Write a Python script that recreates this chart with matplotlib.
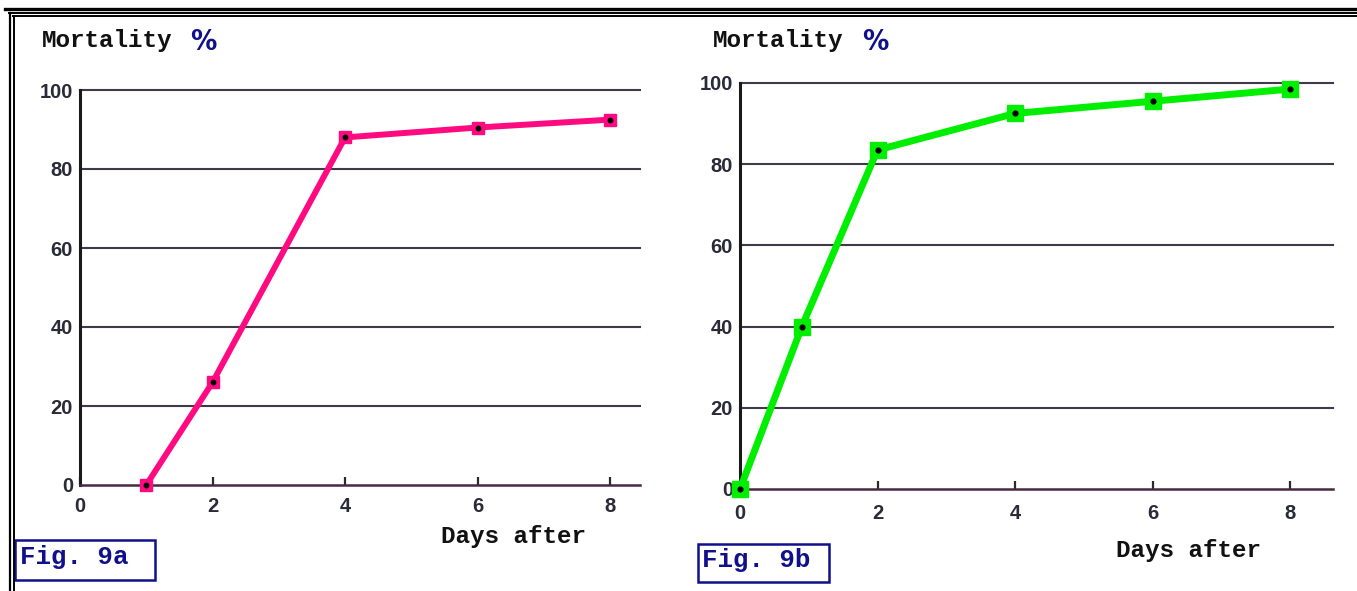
import matplotlib
matplotlib.use('Agg')
import matplotlib.pyplot as plt
from matplotlib.lines import Line2D
from matplotlib.patches import Rectangle

# ---- data ----
days_a = [1, 2, 4, 6, 8]
mort_a = [0, 26, 88, 90.5, 92.5]
days_b = [0, 0.9, 2, 4, 6, 8]
mort_b = [0, 40, 83.5, 92.5, 95.5, 98.5]
xticks = [0, 2, 4, 6, 8]
yticks = [0, 20, 40, 60, 80, 100]
ylabel_txt = "Mortality"
xlabel_txt = "Days after"
fig_labels = ["Fig. 9a", "Fig. 9b"]

W, H = 1357, 591
fig = plt.figure(figsize=(W / 100, H / 100), dpi=100)
fig.patch.set_facecolor('white')


def rect(x0, y0, x1, y1):
    return [x0 / W, 1 - y1 / H, (x1 - x0) / W, (y1 - y0) / H]


def fx(x):
    return x / W


def fy(y):
    return 1 - y / H


NAVY = '#10108a'
TXT = '#111111'
TICKC = '#2a2a38'
GRIDC = '#403a48'
SPINEB = '#4a2840'
mono = ['Liberation Mono', 'DejaVu Sans Mono']


def style_axes(ax, xmax, xpad):
    ax.set_xlim(0, xmax)
    ax.set_ylim(0, 100)
    for s in ['top', 'right']:
        ax.spines[s].set_visible(False)
    ax.spines['left'].set_color('#1a1a1a')
    ax.spines['left'].set_linewidth(2.2)
    ax.spines['bottom'].set_color(SPINEB)
    ax.spines['bottom'].set_linewidth(1.8)
    ax.set_xticks(xticks)
    ax.set_yticks(yticks)
    ax.tick_params(axis='x', direction='in', length=6, width=1.6,
                   color='#2a2a2a', pad=xpad, labelsize=14.5, labelcolor=TICKC)
    ax.tick_params(axis='y', length=0, pad=5, labelsize=14.5, labelcolor=TICKC)
    for lab in ax.get_xticklabels() + ax.get_yticklabels():
        lab.set_fontweight('bold')
        lab.set_family(['Liberation Sans', 'DejaVu Sans'])
    for yv in yticks[1:]:
        ax.axhline(yv, color=GRIDC, lw=1.5, zorder=1, clip_on=False)
    ax.set_facecolor('none')


# ---- panel a ----
axa = fig.add_axes(rect(80, 90, 640, 485))
style_axes(axa, 8.45, 9)
axa.plot(days_a, mort_a, color='#ff0a80', lw=4.3, marker='s', markersize=9,
         markerfacecolor='#ff0a80', markeredgecolor='#ff0a80',
         zorder=3, clip_on=False, solid_joinstyle='miter')
axa.plot(days_a, mort_a, ls='none', marker='o', markersize=3.2,
         color='black', zorder=4, clip_on=False)

# ---- panel b ----
axb = fig.add_axes(rect(740, 83, 1333, 489))
style_axes(axb, 8.625, 11)
axb.plot(days_b, mort_b, color='#00ee00', lw=5.0, marker='s', markersize=11.5,
         markerfacecolor='#00ee00', markeredgecolor='#00ee00',
         zorder=3, clip_on=False, solid_joinstyle='miter')
axb.plot(days_b, mort_b, ls='none', marker='o', markersize=3.4,
         color='black', zorder=4, clip_on=False)

# ---- texts ----
for x0, xpct, y0 in [(42, 190, 41), (713, 862, 41)]:
    fig.text(fx(x0), fy(y0), ylabel_txt, family=mono, fontsize=17.5,
             fontweight='bold', color=TXT, va='center', ha='left')
    fig.text(fx(xpct), fy(y0 + 1.5), '%', family=['DejaVu Sans'],
             fontstretch='condensed', fontsize=21,
             fontweight='bold', color=NAVY, va='center', ha='left')

fig.text(fx(441), fy(536), xlabel_txt, family=mono, fontsize=17.5,
         fontweight='bold', color=TXT, va='center', ha='left')
fig.text(fx(1116), fy(551), xlabel_txt, family=mono, fontsize=17.5,
         fontweight='bold', color=TXT, va='center', ha='left')

for (x0, y0, x1, y1), (tx, ty), lab in zip(
        [(15, 540, 155, 580), (698, 544, 829, 582)],
        [(20, 557), (702, 560)], fig_labels):
    fig.patches.append(Rectangle((fx(x0), fy(y1)), fx(x1) - fx(x0),
                                 fy(y0) - fy(y1), transform=fig.transFigure,
                                 fill=False, edgecolor=NAVY, lw=1.8))
    fig.text(fx(tx), fy(ty), lab, family=mono, fontsize=18.5,
             fontweight='bold', color=NAVY, va='center', ha='left')

# ---- page frame ----
fig.lines.append(Line2D([fx(5), 1], [fy(8.5), fy(8.5)], transform=fig.transFigure,
                        color='black', lw=2.4))
fig.lines.append(Line2D([fx(9), 1], [fy(13), fy(13)], transform=fig.transFigure,
                        color='black', lw=1.4))
fig.lines.append(Line2D([fx(13), 1], [fy(16), fy(16)], transform=fig.transFigure,
                        color='black', lw=1.4))
fig.lines.append(Line2D([fx(10), fx(10)], [fy(12.5), 0], transform=fig.transFigure,
                        color='black', lw=1.6))
fig.lines.append(Line2D([fx(14), fx(14)], [fy(15.5), 0], transform=fig.transFigure,
                        color='black', lw=1.4))

fig.savefig('out.png', dpi=100, facecolor='white')
